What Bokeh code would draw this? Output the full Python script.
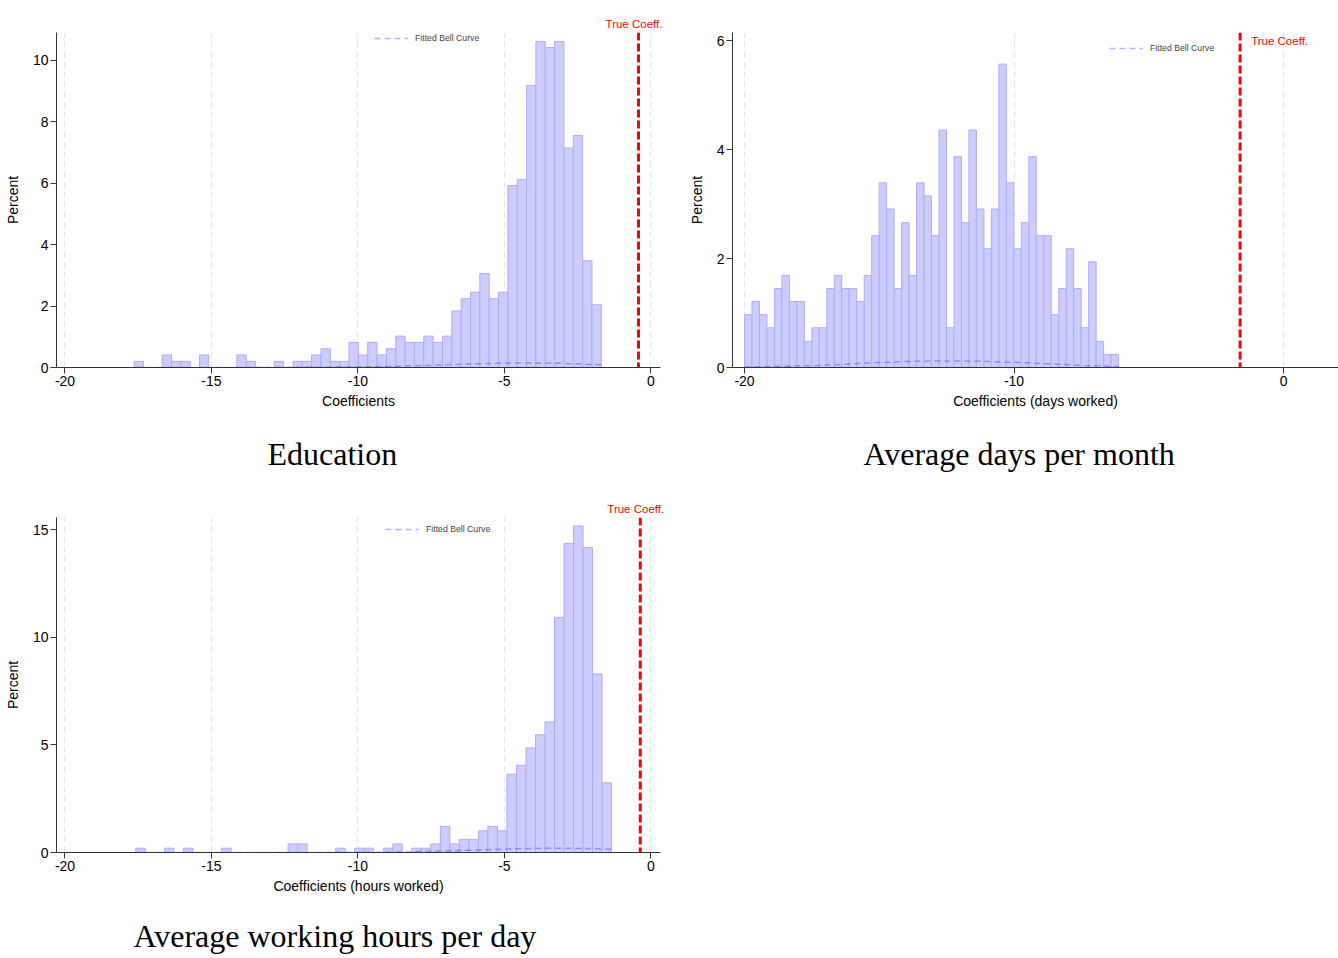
import numpy as np
from bokeh.plotting import figure
from bokeh.models import (Span, Label, Legend, LegendItem, FixedTicker, Range1d, Title,
                          LinearAxis)
from bokeh.layouts import column, row
from bokeh.embed import file_html
from bokeh.resources import INLINE

# ---------------- data ----------------
# Education panel: 50 bins between edu_lo and edu_hi, percent per bin
edu_lo, edu_hi = -17.64, -1.69
edu_pct = [0.20, 0, 0, 0.41, 0.20, 0.20, 0, 0.41, 0, 0,
           0, 0.41, 0.20, 0, 0, 0.20, 0, 0.20, 0.20, 0.41,
           0.61, 0.20, 0.20, 0.82, 0.41, 0.82, 0.41, 0.61, 1.02, 0.82,
           0.82, 1.02, 0.82, 1.02, 1.84, 2.24, 2.45, 3.06, 2.24, 2.45,
           5.92, 6.12, 9.18, 10.61, 10.41, 10.61, 7.14, 7.55, 3.47, 2.04]
edu_curve_x = [-17.6, -15, -13, -11, -10, -9, -8, -7, -6, -5, -4, -3, -2, -1.7]
edu_curve_y = [0.0, 0.0, 0.005, 0.01, 0.02, 0.035, 0.06, 0.09, 0.12, 0.145, 0.15, 0.135, 0.10, 0.09]
edu_true = -0.42

# Average days per month panel
days_lo, days_hi = -20.0, -6.12
days_pct = [0.97, 1.21, 0.97, 0.73, 1.45, 1.69, 1.21, 1.21, 0.48, 0.73,
            0.73, 1.45, 1.69, 1.45, 1.45, 1.21, 1.69, 2.42, 3.39, 2.91,
            1.45, 2.66, 1.69, 3.39, 3.15, 2.42, 4.36, 0.73, 3.87, 2.66,
            4.36, 2.91, 2.18, 2.91, 5.57, 3.39, 2.18, 2.66, 3.87, 2.42,
            2.42, 0.97, 1.45, 2.18, 1.45, 0.73, 1.94, 0.48, 0.24, 0.24]
days_curve_x = [-20, -19, -18, -17, -16, -15, -14, -13, -12, -11, -10, -9, -8, -7, -6.1]
days_curve_y = [0.01, 0.02, 0.03, 0.045, 0.065, 0.09, 0.11, 0.12, 0.12, 0.11, 0.095, 0.075, 0.05, 0.03, 0.02]
days_true = -1.61

# Average working hours per day panel
hours_lo, hours_hi = -17.58, -1.34
hours_pct = [0.20, 0, 0, 0.20, 0, 0.20, 0, 0, 0, 0.20,
             0, 0, 0, 0, 0, 0, 0.40, 0.40, 0, 0,
             0, 0.20, 0, 0.20, 0.20, 0, 0.20, 0.40, 0, 0.20,
             0.20, 0.40, 1.21, 0.40, 0.61, 0.61, 1.01, 1.21, 1.01, 3.64,
             4.05, 4.86, 5.47, 6.07, 10.93, 14.37, 15.18, 14.17, 8.30, 3.24]
hours_curve_x = [-17.6, -14, -12, -10, -9, -8, -7, -6, -5, -4, -3, -2, -1.3]
hours_curve_y = [0.0, 0.0, 0.002, 0.01, 0.02, 0.04, 0.07, 0.11, 0.16, 0.19, 0.20, 0.18, 0.15]
hours_true = -0.36

captions = ["Education", "Average days per month", "Average working hours per day"]
xlabels = ["Coefficients", "Coefficients (days worked)", "Coefficients (hours worked)"]

SANS = "Liberation Sans"
SERIF = "Liberation Serif"
TRUE_TXT = "True Coeff."
TRUE_TXT_W = 56  # approx rendered width of the label in px


def panel(lo, hi, pct, cx, cy, true_coef, xr, yr, xticks, yticks, xlabel, caption,
          width, height, mb, legend_loc, lab_inside, cap_left, cap_gap):
    p = figure(width=width, height=height, x_range=Range1d(*xr), y_range=Range1d(*yr),
               output_backend="svg", toolbar_location=None, title=None,
               min_border_left=mb[0], min_border_right=mb[1],
               min_border_top=mb[2], min_border_bottom=mb[3])
    p.outline_line_color = None
    p.background_fill_color = "white"
    p.border_fill_color = "white"

    edges = np.linspace(lo, hi, len(pct) + 1)
    p.quad(left=edges[:-1], right=edges[1:], bottom=0, top=pct,
           fill_color="#ccccff", fill_alpha=1.0, line_color="#adadff", line_width=1)

    r = p.line(cx, cy, line_color="blue", line_alpha=0.3, line_dash="6 4", line_width=1.5)

    p.add_layout(Span(location=true_coef, dimension="height", line_color="red",
                      line_width=3, line_dash="8 3"))

    if lab_inside:
        p.add_layout(Label(x=true_coef, y=yr[1], text=TRUE_TXT, text_color="red",
                           text_font=SANS, text_font_size="11.5px",
                           text_align="left", text_baseline="middle",
                           x_offset=11, y_offset=-8))
    else:
        fw = width - mb[0] - mb[1]
        px = (true_coef - xr[0]) / (xr[1] - xr[0]) * fw
        p.add_layout(Title(text=TRUE_TXT, text_color="red", text_font=SANS,
                           text_font_size="11.5px", text_font_style="normal",
                           align="left", offset=px - 5 - TRUE_TXT_W / 2,
                           standoff=6, vertical_align="bottom"), "above")

    leg = Legend(items=[LegendItem(label="Fitted Bell Curve", renderers=[r])],
                 location=legend_loc, padding=0, margin=0, spacing=0,
                 border_line_color=None, background_fill_alpha=0,
                 label_text_font=SANS, label_text_font_size="8.7px",
                 glyph_width=34, glyph_height=10, label_height=10, label_standoff=7)
    p.add_layout(leg)

    p.xaxis.ticker = FixedTicker(ticks=xticks)
    p.yaxis.ticker = FixedTicker(ticks=yticks)
    p.xaxis.major_label_overrides = {t: str(t) for t in xticks}
    p.yaxis.major_label_overrides = {t: str(t) for t in yticks}
    p.xgrid.ticker = FixedTicker(ticks=xticks)
    p.xgrid.grid_line_color = "#e4e4e4"
    p.xgrid.grid_line_dash = "6 4"
    p.ygrid.visible = False

    for ax in (p.xaxis[0], p.yaxis[0]):
        ax.axis_line_color = "#333333"
        ax.major_tick_line_color = "#333333"
        ax.major_tick_out = 6
        ax.major_tick_in = 0
        ax.minor_tick_line_color = None
        ax.major_label_text_font = SANS
        ax.major_label_text_font_size = "14px"
        ax.major_label_text_color = "black"
        ax.axis_label_text_font = SANS
        ax.axis_label_text_font_size = "14px"
        ax.axis_label_text_font_style = "normal"
        ax.axis_label_text_color = "black"
        ax.major_label_standoff = 2
    p.xaxis.axis_label = xlabel
    p.xaxis.axis_label_standoff = 4
    p.yaxis.axis_label = "Percent"
    p.yaxis.axis_label_standoff = 9

    # invisible spacer between the x axis and the caption: one white tick, no label
    spacer = LinearAxis(ticker=FixedTicker(ticks=[xticks[0]]), axis_line_color="white",
                        major_tick_line_color="white", minor_tick_line_color=None,
                        major_tick_out=cap_gap, major_tick_in=0, minor_tick_out=0,
                        major_label_standoff=0, axis_label_standoff=0,
                        major_label_overrides={xticks[0]: ""},
                        major_label_text_font_size="1px")
    p.add_layout(spacer, "below")

    p.add_layout(Title(text=caption, align="left", offset=cap_left, standoff=2,
                       vertical_align="bottom", text_font=SERIF, text_font_size="32px",
                       text_font_style="normal", text_color="black"), "below")
    return p


p1 = panel(edu_lo, edu_hi, edu_pct, edu_curve_x, edu_curve_y, edu_true,
           (-20.29, 0.33), (0, 10.9), [-20, -15, -10, -5, 0], [0, 2, 4, 6, 8, 10],
           xlabels[0], captions[0], 680, 488, (56, 20, 31, 121), (318, 324),
           False, 211, 21)
p2 = panel(days_lo, days_hi, days_pct, days_curve_x, days_curve_y, days_true,
           (-20.445, 2.04), (0, 6.15), [-20, -10, 0], [0, 2, 4, 6],
           xlabels[1], captions[1], 658, 488, (52, 0, 32, 121), (377, 314),
           True, 131, 21)
p3 = panel(hours_lo, hours_hi, hours_pct, hours_curve_x, hours_curve_y, hours_true,
           (-20.29, 0.33), (0, 15.57), [-20, -15, -10, -5, 0], [0, 5, 10, 15],
           xlabels[2], captions[2], 680, 468, (56, 20, 29, 104), (329, 318),
           False, 77, 18)

layout = column(row(p1, p2), row(p3))
open("out.html", "w").write(file_html(layout, INLINE))
